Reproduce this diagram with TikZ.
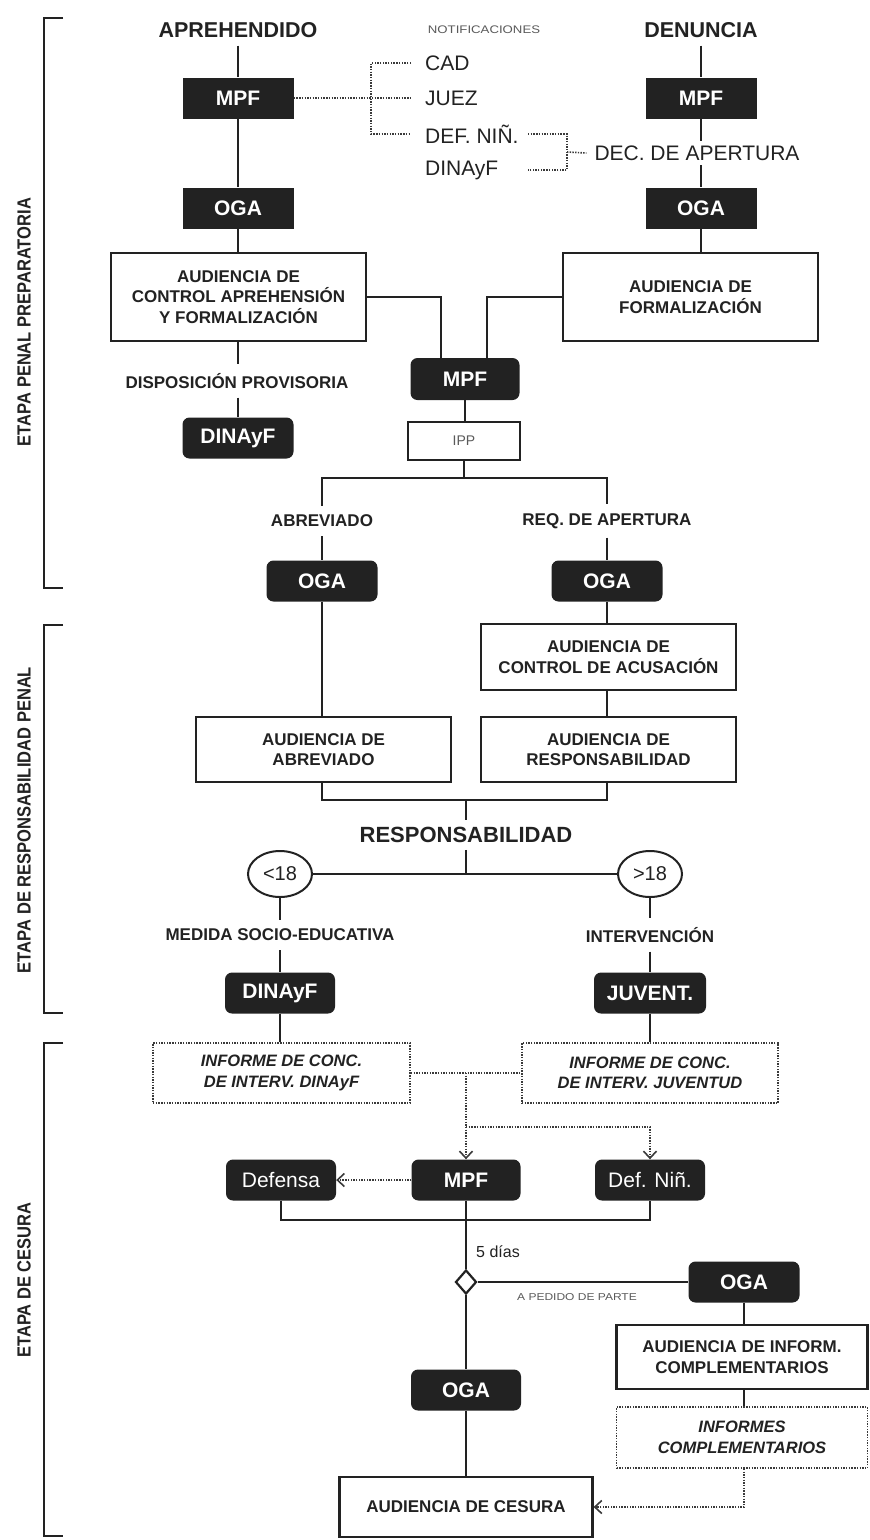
\documentclass[tikz,border=0pt]{standalone}
\usepackage{fontspec}
\setmainfont{Liberation Sans}
\newfontfamily\condfont{Liberation Sans}[FakeStretch=0.87]
\newfontfamily\widefont{Liberation Sans}[FakeStretch=1.2]
\usetikzlibrary{arrows.meta,shapes.geometric}
\definecolor{ink}{HTML}{222222}
\definecolor{dotc}{HTML}{3a3a3a}
\definecolor{faint}{HTML}{5a5a5a}
\begin{document}
\begin{tikzpicture}[x=1pt,y=-1pt,
  blk/.style={fill=ink, draw=none, text=white, minimum width=111pt, minimum height=41pt,
    inner sep=0pt, font=\fontsize{21}{21}\selectfont\bfseries},
  blkr/.style={blk, rounded corners=7pt},
  blkn/.style={blkr, font=\fontsize{21}{21}\selectfont},
  wbox/.style={draw=ink, line width=2.2pt, fill=white, align=center, inner sep=0pt, text=ink,
    font=\fontsize{17}{20.5}\selectfont\bfseries},
  dbox/.style={wbox, draw=dotc, line width=1.7pt, dash pattern=on 1.4pt off 1.3pt,
    font=\fontsize{16.5}{20.5}\selectfont\bfseries\itshape},
  lbl/.style={text=ink, inner sep=0pt, outer xsep=2pt, outer ysep=9pt, font=\fontsize{17}{17}\selectfont\bfseries},
  head/.style={text=ink, inner sep=0pt, outer ysep=8pt, font=\fontsize{21.5}{21.5}\selectfont\bfseries},
  note/.style={text=ink, inner sep=0pt, anchor=west, font=\fontsize{21}{21}\selectfont},
  small/.style={text=faint, inner sep=0pt, font=\widefont\fontsize{11}{11}\selectfont},
  oval/.style={ellipse, draw=ink, line width=2pt, fill=white, minimum width=64pt, minimum height=46pt,
    inner sep=0pt, text=ink, font=\fontsize{20}{20}\selectfont},
  stage/.style={rotate=90, text=ink, inner sep=0pt, font=\condfont\fontsize{19}{19}\selectfont\bfseries},
  ln/.style={draw=ink, line width=2.1pt},
  br/.style={draw=ink, line width=2.2pt},
  dt/.style={draw=dotc, line width=1.6pt, dash pattern=on 1.4pt off 1.3pt},
  arr/.style={-{Straight Barb[length=7pt,width=13pt,line width=1.6pt]}}
]
\fill[white] (0,0) rectangle (870,1540);
\useasboundingbox (0,0) rectangle (870,1540);

% ---------- stage brackets ----------
\draw[br] (63,18) -- (44,18) -- (44,588) -- (63,588);
\draw[br] (63,625) -- (44,625) -- (44,1013) -- (63,1013);
\draw[br] (63,1043) -- (44,1043) -- (44,1536) -- (63,1536);
\node[stage] (st1) at (24,322) {ETAPA PENAL PREPARATORIA};
\node[stage] (st2) at (24,820) {ETAPA DE RESPONSABILIDAD PENAL};
\node[stage] (st3) at (24,1280) {ETAPA DE CESURA};

% ---------- top ----------
\node[head] (aprh) at (238,30) {APREHENDIDO};
\node[head] (den) at (701,30) {DENUNCIA};
\node[small] (notif) at (484,30) {NOTIFICACIONES};

\node[blk] (mpf1) at (238,98) {MPF};
\node[blk] (mpf2) at (701,98) {MPF};
\node[blk] (oga1) at (238,208) {OGA};
\node[blk] (oga2) at (701,208) {OGA};

\node[note] (cad) at (425,63) {CAD};
\node[note] (juez) at (425,98) {JUEZ};
\node[note] (defn) at (425,134) {DEF. NIÑ.};
\node[note] (dny) at (425,170) {DINAyF};
\node[note, anchor=center, outer ysep=5pt] (dec) at (697,153) {DEC. DE APERTURA};

\coordinate (nb1) at (371,63);
\coordinate (nb2) at (371,134);
\coordinate (nx) at (528,0);
\coordinate (nb3) at (567,134);
\coordinate (nb4) at (567,170);
\coordinate (nb5) at (567,152);
\draw[dt] (mpf1.east) -- ([xshift=-14pt]juez.west);
\draw[dt] ([xshift=-14pt]cad.west) -- (nb1) -- (nb2) -- ([xshift=-14pt]defn.west);
\draw[dt] (defn.east -| nx) -- (nb3) -- (nb4) -- (dny.east -| nx);
\draw[dt] (nb5) -- ([xshift=-8pt]dec.west);

\draw[ln] (aprh.south) -- (mpf1.north);
\draw[ln] (mpf1.south) -- (oga1.north);
\draw[ln] (den.south) -- (mpf2.north);
\draw[ln] (mpf2.south) -- (mpf2.south |- dec.north);
\draw[ln] (mpf2.south |- dec.south) -- (oga2.north);

\node[wbox, minimum width=255pt, minimum height=88pt] (aud1) at (238.5,297)
  {AUDIENCIA DE\\CONTROL APREHENSIÓN\\Y FORMALIZACIÓN};
\node[wbox, minimum width=255pt, minimum height=88pt] (aud2) at (690.5,297)
  {AUDIENCIA DE\\FORMALIZACIÓN};
\draw[ln] (oga1.south) -- (oga1.south |- aud1.north);
\draw[ln] (oga2.south) -- (oga2.south |- aud2.north);

\node[blkr, minimum width=109pt, minimum height=42pt] (mpf3) at (465,379) {MPF};
\draw[ln] (aud1.east) -| ([xshift=-24pt]mpf3.north);
\draw[ln] (aud2.west) -| ([xshift=22pt]mpf3.north);

\node[lbl] (disp) at (237,381) {DISPOSICIÓN PROVISORIA};
\node[blkr] (dinayf1) at (238,438) {DINAyF};
\draw[ln] (dinayf1.north |- aud1.south) -- (dinayf1.north |- disp.north);
\draw[ln] (dinayf1.north |- disp.south) -- (dinayf1.north);

\node[wbox, draw=ink, line width=2pt, minimum width=112pt, minimum height=38pt,
  font=\fontsize{14}{14}\selectfont, text=faint] (ipp) at (464,441) {IPP};
\draw[ln] (mpf3.south) -- (mpf3.south |- ipp.north);

% ---------- branches ----------
\node[lbl] (abrev) at (322,521) {ABREVIADO};
\node[lbl] (req) at (607,521) {REQ. DE APERTURA};
\coordinate (split) at (464,478);
\draw[ln] (ipp.south) -- (split);
\draw[ln] (abrev.north) -- (abrev.north |- split) -- (req.north |- split) -- (req.north);

\node[blkr] (oga3) at (322,581) {OGA};
\node[blkr] (oga4) at (607,581) {OGA};
\draw[ln] (abrev.south) -- (oga3.north);
\draw[ln] (req.south) -- (oga4.north);

\node[wbox, minimum width=255pt, minimum height=66pt] (acus) at (608.5,657)
  {AUDIENCIA DE\\CONTROL DE ACUSACIÓN};
\node[wbox, minimum width=255pt, minimum height=65pt] (abrbox) at (323.5,749.5)
  {AUDIENCIA DE\\ABREVIADO};
\node[wbox, minimum width=255pt, minimum height=65pt] (resbox) at (608.5,749.5)
  {AUDIENCIA DE\\RESPONSABILIDAD};
\draw[ln] (oga4.south) -- (oga4.south |- acus.north);
\draw[ln] (oga4.south |- acus.south) -- (oga4.south |- resbox.north);
\draw[ln] (oga3.south) -- (oga3.south |- abrbox.north);
\draw[ln] (oga3.south |- abrbox.south) -- ++(0,17) -| (oga4.south |- resbox.south);

\node[head, outer ysep=7pt, font=\fontsize{22}{22}\selectfont\bfseries] (resp) at (466,835) {RESPONSABILIDAD};
\coordinate (jr) at (466,799);
\draw[ln] (jr) -- (resp.north);

\node[oval] (lt18) at (280,874) {<18};
\node[oval] (gt18) at (650,874) {>18};
\draw[ln] (lt18.east) -- (gt18.west);
\draw[ln] (resp.south) -- (resp.south |- lt18.east);

\node[lbl] (med) at (280,935) {MEDIDA SOCIO-EDUCATIVA};
\node[lbl] (interv) at (650,935) {INTERVENCIÓN};
\draw[ln] (lt18.south) -- (med.north);
\draw[ln] (gt18.south) -- (interv.north);

\node[blkr, minimum width=110pt] (dinayf2) at (280,993) {DINAyF};
\node[blkr, minimum width=112pt] (juvent) at (650,993) {JUVENT.};
\draw[ln] (med.south) -- (dinayf2.north);
\draw[ln] (interv.south) -- (juvent.north);

% ---------- cesura ----------
\node[dbox, minimum width=257pt, minimum height=60pt] (inf1) at (281.5,1073)
  {INFORME DE CONC.\\DE INTERV. DINAyF};
\node[dbox, minimum width=256pt, minimum height=60pt] (inf2) at (650,1073)
  {INFORME DE CONC.\\DE INTERV. JUVENTUD};
\draw[ln] (dinayf2.south) -- (dinayf2.south |- inf1.north);
\draw[ln] (juvent.south) -- (inf2.north);

\node[blkn, minimum width=110pt] (defensa) at (281,1180) {Defensa};
\node[blkr, minimum width=109pt] (mpf4) at (466,1180) {MPF};
\node[blkn, minimum width=110pt] (defnin) at (650,1180) {Def. Niñ.};

\coordinate (sp) at (466,1127);
\draw[dt] (inf1.east) -- (inf2.west);
\draw[dt, arr] (inf1.east -| mpf4.north) -- (mpf4.north);
\draw[dt, arr] (sp) -| (defnin.north);
\draw[dt, arr] (mpf4.west) -- (defensa.east);
\draw[ln] (defensa.south) -- ++(0,19) -| (defnin.south);

\node[text=ink, inner sep=0pt, anchor=west, font=\fontsize{16}{16}\selectfont] (dias) at (476,1252) {5 días};

\node[diamond, draw=ink, line width=2.2pt, fill=white, minimum width=21pt, minimum height=24pt,
  inner sep=0pt] (dia) at (466,1282) {};
\draw[ln] (mpf4.south) -- (dia.north);

\node[blkr, minimum width=111pt] (oga5) at (744,1282) {OGA};
\draw[ln] (dia.east) -- (oga5.west);
\node[small, font=\widefont\fontsize{10}{10}\selectfont] (aped) at (577,1297) {A PEDIDO DE PARTE};

\node[wbox, minimum width=251pt, minimum height=64pt] (inform) at (742,1357)
  {AUDIENCIA DE INFORM.\\COMPLEMENTARIOS};
\node[dbox, minimum width=251pt, minimum height=61pt] (infcomp) at (742,1437.5)
  {INFORMES\\COMPLEMENTARIOS};
\draw[ln] (oga5.south) -- (oga5.south |- inform.north);
\draw[ln] (oga5.south |- inform.south) -- (oga5.south |- infcomp.north);

\node[blkr, minimum width=110pt] (oga6) at (466,1390) {OGA};
\draw[ln] (dia.south) -- (oga6.north);

\node[wbox, minimum width=253pt, minimum height=60pt] (cesura) at (466,1507)
  {AUDIENCIA DE CESURA};
\draw[ln] (oga6.south) -- (cesura.north);
\draw[dt, arr] (oga5.south |- infcomp.south) |- (cesura.east);
\end{tikzpicture}
\end{document}
